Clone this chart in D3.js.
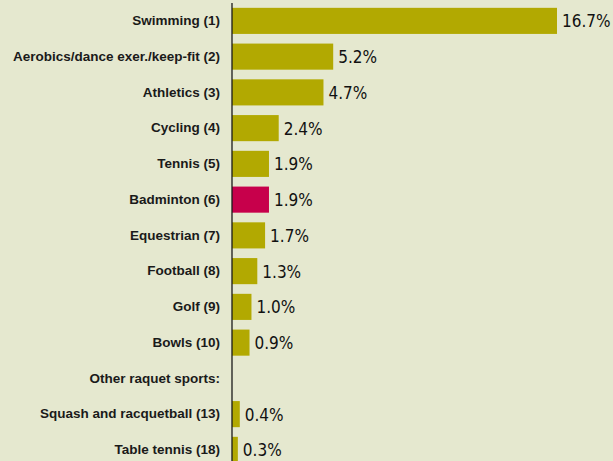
<!DOCTYPE html>
<html>
<head>
<meta charset="utf-8">
<script src="https://cdn.jsdelivr.net/npm/d3@7"></script>
<style>
  html, body { margin: 0; padding: 0; background: #e5e8cf; }
  svg { display: block; }
</style>
</head>
<body>
<div id="chart"></div>
<script>
// data
var sports = ["Swimming (1)", "Aerobics/dance exer./keep-fit (2)", "Athletics (3)", "Cycling (4)",
  "Tennis (5)", "Badminton (6)", "Equestrian (7)", "Football (8)", "Golf (9)", "Bowls (10)",
  "Other raquet sports:", "Squash and racquetball (13)", "Table tennis (18)"];
var values = [16.7, 5.2, 4.7, 2.4, 1.9, 1.9, 1.7, 1.3, 1.0, 0.9, null, 0.4, 0.3];
var valueLabels = ["16.7%", "5.2%", "4.7%", "2.4%", "1.9%", "1.9%", "1.7%", "1.3%", "1.0%", "0.9%", "", "0.4%", "0.3%"];
var highlight = "Badminton (6)";

var data = sports.map(function(s, i) { return {sport: s, value: values[i], label: valueLabels[i]}; });

// set the dimensions and margins of the graph
var margin = {top: 3, right: 0, bottom: 0, left: 232},
    width = 613 - margin.left - margin.right,
    height = 461 - margin.top - margin.bottom;

var svg = d3.select("#chart")
  .append("svg")
    .attr("width", 613)
    .attr("height", 461)
  .append("g")
    .attr("transform", "translate(" + margin.left + "," + margin.top + ")");

// X scale
var x = d3.scaleLinear()
  .domain([0, 16.7])
  .range([0, 325]);

// Y scale, 14 rows (one runs off the bottom)
var step = 35.75;
var y = d3.scaleBand()
  .domain(sports)
  .range([0, step * sports.length])
  .paddingInner(0.27)
  .paddingOuter(0.135);

// Bars
svg.selectAll("rect.bar")
  .data(data.filter(function(d) { return d.value != null; }))
  .enter()
  .append("rect")
    .attr("class", "bar")
    .attr("x", x(0))
    .attr("y", function(d) { return y(d.sport); })
    .attr("width", function(d) { return x(d.value) - x(0); })
    .attr("height", y.bandwidth())
    .attr("fill", function(d) { return d.sport == highlight ? "#c7004b" : "#b2a901"; });

// Value labels
svg.selectAll("text.val")
  .data(data)
  .enter()
  .append("text")
    .attr("class", "val")
    .attr("x", function(d) { return x(d.value || 0) + 5; })
    .attr("y", function(d) { return y(d.sport) + y.bandwidth() / 2; })
    .attr("dy", "0.38em")
    .style("font-family", "'DejaVu Sans Condensed', 'DejaVu Sans', sans-serif")
    .style("font-stretch", "condensed")
    .style("font-size", "17px")
    .style("fill", "#111")
    .text(function(d) { return d.label; });

// Y axis: labels and the plain vertical line
var yAxis = svg.append("g")
  .call(d3.axisLeft(y).tickSize(0).tickPadding(12));
yAxis.select(".domain")
  .attr("d", "M0,0V" + height)
  .attr("stroke", "#1a1a1a")
  .attr("stroke-width", 1.3);
yAxis.selectAll("text")
  .style("font-family", "'Liberation Sans', Arial, sans-serif")
  .style("font-weight", "bold")
  .style("font-size", "13.5px")
  .style("fill", "#1a1a1a");
</script>
</body>
</html>
